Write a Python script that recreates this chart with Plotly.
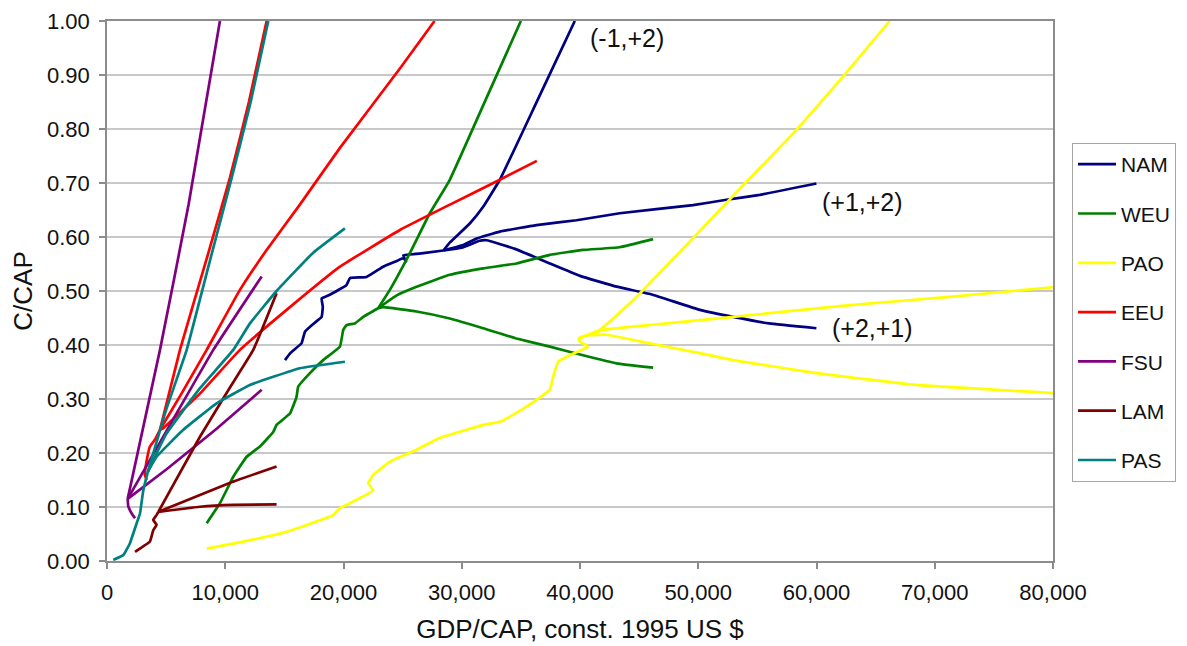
import plotly.graph_objects as go

# ---------------- data (GDP/CAP in 1995 US$, C/CAP ratio) ----------------
REGIONS = ["NAM", "WEU", "PAO", "EEU", "FSU", "LAM", "PAS"]
COLORS = ["#000080", "#008000", "#FFFF00", "#FF0000", "#800080", "#800000", "#008080"]

# NAM
NAM_hist_x = [15050, 15500, 16450, 16750, 17500, 18150, 18250, 18150, 18850, 20250, 20550, 21950,
              23350, 24550, 25050, 25300, 25050, 26750, 28450]
NAM_hist_y = [0.372, 0.385, 0.403, 0.425, 0.440, 0.452, 0.471, 0.486, 0.493, 0.511, 0.524, 0.526,
              0.545, 0.556, 0.561, 0.555, 0.566, 0.570, 0.575]
NAM_a_x = [28450, 29000, 30680, 31810, 33220, 36400, 39560]
NAM_a_y = [0.575, 0.590, 0.625, 0.656, 0.706, 0.853, 1.000]
NAM_b_x = [28450, 30120, 31250, 33220, 36320, 39700, 43360, 49560, 52380, 55200, 59990]
NAM_b_y = [0.575, 0.585, 0.597, 0.610, 0.622, 0.631, 0.644, 0.659, 0.669, 0.678, 0.699]
NAM_c_x = [28450, 30000, 31500, 32100, 34500, 37450, 40000, 43090, 46000, 50130, 52940, 56000, 59990]
NAM_c_y = [0.575, 0.580, 0.593, 0.594, 0.578, 0.551, 0.528, 0.508, 0.494, 0.465, 0.452, 0.440, 0.431]

# WEU
WEU_hist_x = [8430, 9550, 10680, 11810, 12930, 14060, 14340, 15470, 16030, 16170, 17160, 18280,
              19700, 19980, 20260, 20960, 21670, 22930]
WEU_hist_y = [0.070, 0.107, 0.156, 0.193, 0.212, 0.239, 0.252, 0.273, 0.304, 0.323, 0.348, 0.372,
              0.397, 0.428, 0.437, 0.440, 0.452, 0.468]
WEU_a_x = [22930, 23920, 25610, 27300, 28990, 32000, 35000]
WEU_a_y = [0.468, 0.502, 0.570, 0.644, 0.706, 0.853, 1.000]
WEU_b_x = [22930, 24500, 26180, 28990, 31810, 34630, 37450, 40260, 43360, 46180]
WEU_b_y = [0.468, 0.492, 0.508, 0.530, 0.542, 0.551, 0.567, 0.576, 0.581, 0.596]
WEU_c_x = [22930, 23360, 26180, 28990, 31810, 34630, 37450, 40260, 43090, 46180]
WEU_c_y = [0.468, 0.470, 0.462, 0.449, 0.431, 0.412, 0.397, 0.381, 0.366, 0.358]

# PAO
PAO_hist_x = [8430, 11530, 15190, 19130, 19700, 20540, 22510, 22090, 22510, 23920, 26180, 28010,
              30400, 31810, 33360, 35480, 37450, 37730, 38150, 39140, 40690, 40000, 39840]
PAO_hist_y = [0.023, 0.036, 0.054, 0.085, 0.098, 0.107, 0.131, 0.144, 0.159, 0.184, 0.206, 0.227,
              0.243, 0.252, 0.259, 0.286, 0.317, 0.341, 0.369, 0.381, 0.397, 0.406, 0.412]
PAO_a_x = [39840, 41670, 44490, 49560, 54070, 58290, 62240, 66190]
PAO_a_y = [0.412, 0.428, 0.483, 0.598, 0.702, 0.798, 0.897, 1.000]
PAO_b_x = [39840, 41950, 45900, 50130, 52940, 62810, 71260, 80000]
PAO_b_y = [0.412, 0.428, 0.437, 0.446, 0.452, 0.474, 0.489, 0.507]
PAO_c_x = [39840, 40700, 42230, 45900, 50130, 52940, 59990, 68440, 80000]
PAO_c_y = [0.412, 0.418, 0.419, 0.403, 0.385, 0.372, 0.348, 0.326, 0.311]

# EEU
EEU_hist_x = [3350, 3200, 3350, 3630, 4060, 4480]
EEU_hist_y = [0.150, 0.160, 0.185, 0.212, 0.225, 0.243]
EEU_a_x = [4480, 6170, 8500, 10400, 12000, 13500]
EEU_a_y = [0.243, 0.391, 0.565, 0.710, 0.850, 1.000]
EEU_b_x = [4480, 6300, 8430, 11240, 13500, 16310, 19700, 24770, 27700]
EEU_b_y = [0.243, 0.310, 0.391, 0.502, 0.576, 0.660, 0.765, 0.912, 1.000]
EEU_c_x = [4480, 4760, 7860, 11240, 15190, 19700, 24770, 29000, 33220, 36350]
EEU_c_y = [0.243, 0.246, 0.310, 0.391, 0.465, 0.545, 0.613, 0.660, 0.706, 0.741]

# FSU
FSU_hist_x = [2370, 2090, 1800, 1750]
FSU_hist_y = [0.079, 0.088, 0.101, 0.115]
FSU_a_x = [1750, 4480, 6900, 9550]
FSU_a_y = [0.115, 0.391, 0.660, 1.000]
FSU_b_x = [1750, 5400, 8990, 13080]
FSU_b_y = [0.115, 0.255, 0.391, 0.527]
FSU_c_x = [1750, 5040, 9270, 13080]
FSU_c_y = [0.115, 0.170, 0.245, 0.317]

# LAM
LAM_hist_x = [2370, 3630, 3910, 4190, 3910, 4190, 4340]
LAM_hist_y = [0.017, 0.036, 0.057, 0.067, 0.076, 0.085, 0.091]
LAM_a_x = [4340, 7860, 10500, 12370, 14340]
LAM_a_y = [0.091, 0.230, 0.325, 0.391, 0.496]
LAM_b_x = [4340, 7860, 10680, 14340]
LAM_b_y = [0.091, 0.122, 0.147, 0.175]
LAM_c_x = [4340, 7860, 10680, 14340]
LAM_c_y = [0.091, 0.1005, 0.104, 0.105]

# PAS
PAS_hist_x = [530, 1380, 1940, 2510, 2790, 3070, 3350, 3450]
PAS_hist_y = [0.002, 0.011, 0.033, 0.070, 0.088, 0.131, 0.156, 0.165]
PAS_a_x = [3450, 5000, 6740, 8750, 10550, 12150, 13640]
PAS_a_y = [0.165, 0.280, 0.391, 0.560, 0.710, 0.850, 1.000]
PAS_b_x = [3450, 5000, 7860, 10680, 12090, 14340, 17440, 20120]
PAS_b_y = [0.165, 0.235, 0.320, 0.391, 0.440, 0.500, 0.571, 0.616]
PAS_c_x = [3450, 4190, 6450, 9270, 12090, 16310, 20120]
PAS_c_y = [0.165, 0.193, 0.243, 0.292, 0.326, 0.357, 0.369]

# scenario labels
LABELS = ["(-1,+2)", "(+1,+2)", "(+2,+1)"]
LABEL_X = [40680, 60300, 61140]
LABEL_Y = [0.968, 0.665, 0.431]

X_TICKS = [0, 10000, 20000, 30000, 40000, 50000, 60000, 70000, 80000]
Y_TICKS = [0.0, 0.1, 0.2, 0.3, 0.4, 0.5, 0.6, 0.7, 0.8, 0.9, 1.0]

SERIES = {
    "NAM": (NAM_hist_x, NAM_hist_y, NAM_a_x, NAM_a_y, NAM_b_x, NAM_b_y, NAM_c_x, NAM_c_y),
    "WEU": (WEU_hist_x, WEU_hist_y, WEU_a_x, WEU_a_y, WEU_b_x, WEU_b_y, WEU_c_x, WEU_c_y),
    "PAO": (PAO_hist_x, PAO_hist_y, PAO_a_x, PAO_a_y, PAO_b_x, PAO_b_y, PAO_c_x, PAO_c_y),
    "EEU": (EEU_hist_x, EEU_hist_y, EEU_a_x, EEU_a_y, EEU_b_x, EEU_b_y, EEU_c_x, EEU_c_y),
    "FSU": (FSU_hist_x, FSU_hist_y, FSU_a_x, FSU_a_y, FSU_b_x, FSU_b_y, FSU_c_x, FSU_c_y),
    "LAM": (LAM_hist_x, LAM_hist_y, LAM_a_x, LAM_a_y, LAM_b_x, LAM_b_y, LAM_c_x, LAM_c_y),
    "PAS": (PAS_hist_x, PAS_hist_y, PAS_a_x, PAS_a_y, PAS_b_x, PAS_b_y, PAS_c_x, PAS_c_y),
}

FONT = "Liberation Sans, Arial, sans-serif"

fig = go.Figure()
for name, color in zip(REGIONS, COLORS):
    hx, hy, ax, ay, bx, by, cx, cy = SERIES[name]
    xs = list(hx) + [None] + list(ax) + [None] + list(bx) + [None] + list(cx)
    ys = list(hy) + [None] + list(ay) + [None] + list(by) + [None] + list(cy)
    fig.add_trace(go.Scatter(
        x=xs, y=ys, mode="lines", name=name, legendgroup=name,
        line=dict(color=color, width=2.7, shape="spline", smoothing=0.3),
        connectgaps=False, hoverinfo="skip",
    ))

for txt, lx, ly in zip(LABELS, LABEL_X, LABEL_Y):
    fig.add_annotation(x=lx, y=ly, text=txt, showarrow=False, xanchor="left", yanchor="middle",
                       font=dict(family=FONT, size=25, color="#111111"))

fig.update_layout(
    width=1179, height=638,
    margin=dict(l=99, r=134, t=13, b=85, autoexpand=False),
    paper_bgcolor="white", plot_bgcolor="white",
    font=dict(family=FONT, size=22, color="#111111"),
    showlegend=True,
    legend=dict(
        x=1.0201, y=0.774, xanchor="left", yanchor="top",
        bgcolor="white", bordercolor="#a6a6a6", borderwidth=1,
        font=dict(family=FONT, size=21, color="#111111"),
        tracegroupgap=19, itemwidth=38, traceorder="grouped",
    ),
    xaxis=dict(
        range=[0, 80000], tickvals=X_TICKS, tickformat=",d",
        showgrid=False, zeroline=False,
        showline=True, linecolor="#8c8c8c", linewidth=1.5, mirror=True,
        ticks="outside", ticklen=6, tickcolor="#8c8c8c", tickwidth=1.5,
        ticklabelstandoff=5,
        tickfont=dict(family=FONT, size=22, color="#111111"),
        title=dict(text="GDP/CAP, const. 1995 US $", font=dict(family=FONT, size=26, color="#111111"),
                   standoff=16),
        automargin=False,
    ),
    yaxis=dict(
        range=[0, 1], tickvals=Y_TICKS, tickformat=".2f",
        showgrid=True, gridcolor="#c8c8c8", gridwidth=2, zeroline=False,
        showline=True, linecolor="#8c8c8c", linewidth=1.5, mirror=True,
        ticks="outside", ticklen=6, tickcolor="#8c8c8c", tickwidth=1.5,
        ticklabelstandoff=5,
        tickfont=dict(family=FONT, size=22, color="#111111"),
        title=dict(text="C/CAP", font=dict(family=FONT, size=26, color="#111111"), standoff=10),
        automargin=False,
    ),
)

fig.write_html("out.html")
